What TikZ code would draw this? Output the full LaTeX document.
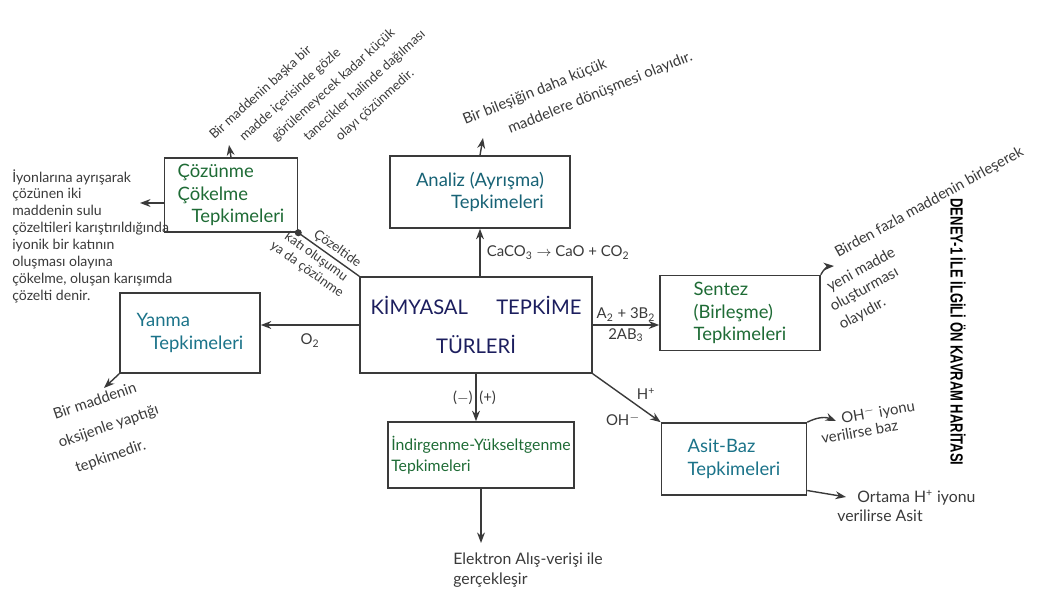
\documentclass[tikz,border=0pt]{standalone}
\usepackage{fontspec}
\setmainfont{Lato}
\newfontfamily\baslikfont{Liberation Sans}
\usetikzlibrary{arrows.meta}

\definecolor{yesil}{HTML}{1E6B35}
\definecolor{turkuaz}{HTML}{1B7389}
\definecolor{lacivert}{HTML}{1C1E5E}
\definecolor{kursun}{HTML}{3A3A3A}

\tikzset{
  kutu/.style={draw=kursun, line width=0.9pt, align=left, font=\fontsize{10.5}{13}\selectfont},
  aciklama/.style={text=kursun, font=\fontsize{8}{9.6}\selectfont, inner sep=0pt},
  etiket/.style={text=kursun, font=\fontsize{8.5}{10}\selectfont, inner sep=1.5pt},
  cizgi/.style={draw=kursun, line width=0.8pt},
  okcizgi/.style={cizgi, -{Stealth[length=6pt,width=4.5pt]}}
}

\begin{document}
\begin{tikzpicture}[x=0.02cm, y=-0.02cm]
\useasboundingbox (0,0) rectangle (1063,591);

% ana kavram
\node[kutu, text=lacivert, align=center, font=\fontsize{11.5}{14}\selectfont,
  minimum width=4.64cm, minimum height=1.92cm] (kimya) at (476,325)
  {KİMYASAL\hspace{1.4em}TEPKİME\\[8pt]TÜRLERİ};

% tepkime turleri
\node[kutu, text=yesil, minimum width=2.66cm, minimum height=1.46cm] (coz) at (231,195)
  {Çözünme\\Çökelme\\\hspace*{8pt}Tepkimeleri};
\node[kutu, text=turkuaz!85!black, minimum width=3.6cm, minimum height=1.44cm] (analiz) at (480,192)
  {Analiz (Ayrışma)\\\hspace*{20pt}Tepkimeleri};
\node[kutu, text=turkuaz, minimum width=2.8cm, minimum height=1.6cm] (yanma) at (190,333)
  {Yanma\\\hspace*{8pt}Tepkimeleri};
\node[kutu, text=yesil, minimum width=3.2cm, minimum height=1.5cm] (sentez) at (740,313)
  {Sentez\\(Birleşme)\\Tepkimeleri};
\node[kutu, text=yesil, font=\fontsize{9}{12}\selectfont, inner xsep=2pt,
  minimum width=3.7cm, minimum height=1.32cm] (indir) at (481,455)
  {İndirgenme-Yükseltgenme\\Tepkimeleri};
\node[kutu, text=turkuaz, minimum width=2.9cm, minimum height=1.44cm] (asit) at (734,459)
  {Asit-Baz\\Tepkimeleri};

% baglantilar
\draw[okcizgi] (analiz.south |- kimya.north) -- (analiz.south)
  node[etiket, midway, right=2pt] {CaCO\textsubscript{3} $\rightarrow$ CaO + CO\textsubscript{2}};
\draw[okcizgi] (kimya.west) -- (kimya.west -| yanma.east)
  node[etiket, midway, below=3pt] {O\textsubscript{2}};
\draw[okcizgi] (kimya.east) -- (kimya.east -| sentez.west)
  node[etiket, midway, above] {A\textsubscript{2} + 3B\textsubscript{2}}
  node[etiket, midway, below] {2AB\textsubscript{3}};
\draw[okcizgi] (kimya.south) -- (kimya.south |- indir.north)
  node[etiket, midway, left] {($-$)}
  node[etiket, midway, right] {(+)};
\draw[okcizgi] (kimya.south east) -- (asit.north west)
  node[etiket, pos=.6, above right] {H\textsuperscript{+}}
  node[etiket, pos=.75, below left] {OH\textsuperscript{$-$}};
\draw[cizgi] (kimya.north west) -- (coz.south east)
  node[etiket, font=\fontsize{7.5}{9}\selectfont, pos=.45, sloped, above] {Çözeltide}
  node[etiket, font=\fontsize{7.5}{9}\selectfont, pos=.62, sloped, below, align=center] {katı oluşumu\\ya da çözünme};
\fill[kursun] (coz.south east) circle (2pt);

% aciklamalar
\coordinate (cozsol) at (140,203);
\draw[okcizgi] (coz.west |- cozsol) -- (cozsol);
\node[aciklama, anchor=north west, align=left] (cozacik) at (12,169)
  {İyonlarına ayrışarak\\çözünen iki\\maddenin sulu\\çözeltileri karıştırıldığında\\
   iyonik bir katının\\oluşması olayına\\çökelme, oluşan karışımda\\çözelti denir.};

\coordinate (cozust) at (229,145);
\draw[okcizgi] (coz.north) -- (cozust);
\foreach \ux/\uy/\metin [count=\i] in
  {214/140/{Bir maddenin başka bir},
   244/142/{madde içerisinde gözle},
   276/142/{görülemeyecek kadar küçük},
   308/142/{tanecikler halinde dağılması},
   340/142/{olayı çözünmedir.}}
  \node[aciklama, font=\fontsize{7.5}{9}\selectfont, rotate=42, anchor=base west] (cozust\i) at (\ux,\uy) {\metin};

\coordinate (analizust) at (483,138);
\draw[okcizgi] (analiz.north) -- (analizust);
\foreach \ux/\uy/\metin [count=\i] in
  {465/125/{Bir bileşiğin daha küçük},
   510/134/{maddelere dönüşmesi olayıdır.}}
  \node[aciklama, font=\fontsize{8.5}{10}\selectfont, rotate=22, anchor=base west] (analizacik\i) at (\ux,\uy) {\metin};

\coordinate (yanmaok) at (104,388);
\draw[okcizgi] (yanma.south west) -- (yanmaok);
\foreach \ux/\uy/\metin [count=\i] in
  {55/420/{Bir maddenin},
   60/448/{oksijenle yaptığı},
   77/473/{tepkimedir.}}
  \node[aciklama, font=\fontsize{8.5}{10}\selectfont, rotate=19, anchor=base west] (yanmaacik\i) at (\ux,\uy) {\metin};

\coordinate (sentezok) at (834,266);
\draw[okcizgi] (sentez.north east) to[bend left=30] (sentezok);
\foreach \ux/\uy/\metin [count=\i] in
  {838/258/{Birden fazla maddenin birleşerek},
   830/292/{yeni madde},
   833/312/{oluşturması},
   842/330/{olayıdır.}}
  \node[aciklama, font=\fontsize{8.5}{10}\selectfont, rotate=29, anchor=base west] (sentezacik\i) at (\ux,\uy) {\metin};

\coordinate (indirok) at (481,543);
\draw[okcizgi] (indir.south) -- (indirok);
\node[aciklama, font=\fontsize{9}{11}\selectfont, anchor=north west, align=left] (indiracik) at (453,553)
  {Elektron Alış-verişi ile\\gerçekleşir};

\coordinate (asitust) at (836,421);
\draw[okcizgi] (asit.north east) to[bend left=25] (asitust);
\foreach \ux/\uy/\metin [count=\i] in
  {842/424/{OH\textsuperscript{$-$} iyonu},
   822/444/{verilirse baz}}
  \node[aciklama, font=\fontsize{8.5}{10}\selectfont, rotate=10, anchor=base west] (asitust\i) at (\ux,\uy) {\metin};

\coordinate (asitalt) at (846,497);
\draw[okcizgi] ([yshift=3pt]asit.south east) -- (asitalt);
\node[aciklama, font=\fontsize{9}{11}\selectfont, anchor=base west] (asitalt1) at (857,503) {Ortama H\textsuperscript{+} iyonu};
\node[aciklama, font=\fontsize{9}{11}\selectfont, anchor=base west] (asitalt2) at (837,522) {verilirse Asit};

% baslik
\node[font=\baslikfont\bfseries\fontsize{10}{12}\selectfont, rotate=-90, inner sep=0pt] (baslik) at (958,332)
  {\scalebox{0.74}[1]{DENEY-1 İLE İLGİLİ ÖN KAVRAM HARİTASI}};
\end{tikzpicture}
\end{document}
